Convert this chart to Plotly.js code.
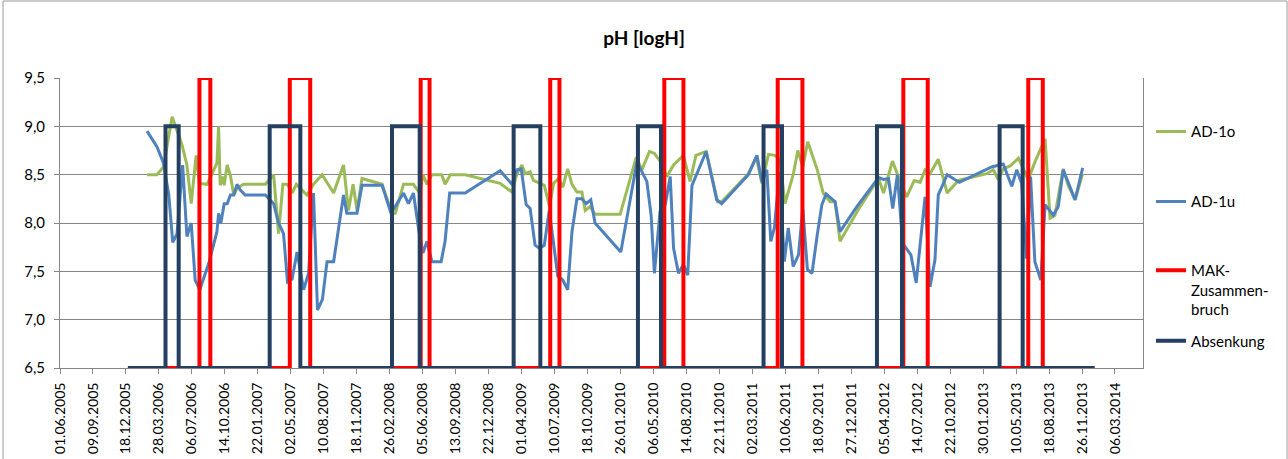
<!DOCTYPE html>
<html>
<head>
<meta charset="utf-8">
<script src="https://cdn.plot.ly/plotly-3.0.1.min.js"></script>
<style>
html,body{margin:0;padding:0;background:#fff;}
#chart{width:1288px;height:459px;}
</style>
</head>
<body>
<div id="chart"></div>
<script>
// ---------- DATA ----------
const ad1oDates = ["2006-02-20","2006-03-22","2006-04-11","2006-05-07","2006-06-06","2006-06-21","2006-07-04","2006-07-19","2006-07-29","2006-08-21","2006-09-20","2006-09-25","2006-09-30","2006-10-07","2006-10-12","2006-10-21","2006-10-31","2006-11-10","2006-11-20","2006-12-10","2007-02-14","2007-03-11","2007-03-26","2007-04-08","2007-04-22","2007-05-06","2007-05-19","2007-06-12","2007-06-20","2007-07-10","2007-08-05","2007-09-09","2007-10-09","2007-10-24","2007-11-07","2007-11-19","2007-12-04","2008-02-03","2008-03-04","2008-03-14","2008-04-08","2008-05-08","2008-05-27","2008-06-06","2008-06-18","2008-07-03","2008-08-02","2008-08-12","2008-08-28","2008-10-12","2008-11-17","2008-12-27","2009-01-26","2009-03-03","2009-03-18","2009-04-02","2009-04-12","2009-04-27","2009-05-07","2009-06-09","2009-06-25","2009-07-07","2009-07-22","2009-08-04","2009-08-19","2009-09-01","2009-09-16","2009-10-01","2009-10-11","2009-10-26","2009-11-10","2010-01-25","2010-03-15","2010-04-01","2010-04-24","2010-05-09","2010-05-24","2010-06-16","2010-07-06","2010-08-05","2010-08-25","2010-09-12","2010-10-13","2010-11-17","2010-11-29","2011-02-18","2011-03-14","2011-03-31","2011-04-20","2011-05-10","2011-05-25","2011-06-09","2011-07-04","2011-07-18","2011-08-02","2011-08-17","2011-09-15","2011-10-03","2011-10-24","2011-11-08","2011-11-23","2012-01-23","2012-03-19","2012-04-03","2012-04-30","2012-05-18","2012-06-12","2012-07-05","2012-07-23","2012-08-07","2012-08-22","2012-09-16","2012-10-13","2012-11-16","2013-02-10","2013-03-02","2013-03-17","2013-04-01","2013-04-22","2013-05-17","2013-06-16","2013-07-06","2013-08-06","2013-08-21","2013-09-05","2013-09-30","2013-10-15","2013-11-05","2013-11-28"];
const ad1oValues = [8.50,8.50,8.58,9.10,8.81,8.60,8.20,8.70,8.41,8.40,8.62,9.00,8.39,8.48,8.39,8.60,8.49,8.29,8.36,8.40,8.40,8.50,7.89,8.40,8.40,8.31,8.40,8.31,8.29,8.40,8.50,8.31,8.60,8.13,8.40,8.13,8.46,8.40,8.10,8.10,8.40,8.40,8.31,8.50,8.40,8.50,8.50,8.40,8.50,8.50,8.47,8.44,8.41,8.32,8.51,8.60,8.51,8.53,8.44,8.39,8.17,8.41,8.46,8.37,8.56,8.40,8.32,8.32,8.13,8.17,8.09,8.09,8.68,8.55,8.74,8.72,8.65,8.48,8.60,8.70,8.43,8.70,8.74,8.22,8.22,8.51,8.68,8.41,8.71,8.70,8.65,8.20,8.50,8.75,8.58,8.84,8.55,8.31,8.22,8.22,7.81,8.17,8.46,8.31,8.64,8.48,8.27,8.44,8.42,8.55,8.51,8.66,8.31,8.44,8.51,8.55,8.45,8.56,8.59,8.67,8.45,8.63,8.87,8.05,8.08,8.56,8.39,8.24,8.51];

const ad1uDates = ["2006-02-20","2006-03-22","2006-04-11","2006-04-27","2006-05-09","2006-05-22","2006-06-08","2006-06-21","2006-07-04","2006-07-16","2006-07-30","2006-08-26","2006-09-20","2006-09-25","2006-10-02","2006-10-12","2006-10-21","2006-10-31","2006-11-10","2006-11-20","2006-11-30","2006-12-15","2007-02-14","2007-03-11","2007-03-26","2007-04-10","2007-04-22","2007-05-06","2007-05-21","2007-06-10","2007-06-25","2007-07-10","2007-07-22","2007-08-06","2007-08-20","2007-09-09","2007-10-09","2007-10-19","2007-11-19","2007-12-04","2008-02-03","2008-03-01","2008-04-08","2008-04-23","2008-05-08","2008-05-24","2008-06-06","2008-06-18","2008-07-03","2008-07-31","2008-08-12","2008-08-26","2008-10-12","2009-01-26","2009-03-03","2009-03-18","2009-03-31","2009-04-15","2009-04-27","2009-05-12","2009-05-25","2009-06-09","2009-06-24","2009-07-07","2009-07-20","2009-08-04","2009-08-19","2009-09-01","2009-09-16","2009-10-01","2009-10-14","2009-10-28","2009-11-10","2010-01-27","2010-03-17","2010-04-16","2010-04-29","2010-05-09","2010-05-26","2010-06-11","2010-06-26","2010-07-06","2010-07-21","2010-08-05","2010-08-18","2010-08-31","2010-10-13","2010-11-14","2010-11-29","2011-02-18","2011-03-16","2011-03-31","2011-04-15","2011-04-27","2011-05-08","2011-05-23","2011-06-07","2011-06-19","2011-07-04","2011-07-20","2011-08-02","2011-08-16","2011-08-30","2011-09-15","2011-09-29","2011-10-12","2011-11-08","2011-11-23","2012-01-13","2012-03-19","2012-04-03","2012-04-18","2012-05-01","2012-05-15","2012-05-31","2012-06-25","2012-07-11","2012-08-07","2012-08-22","2012-09-06","2012-09-16","2012-10-13","2012-11-19","2013-02-25","2013-04-01","2013-04-27","2013-05-12","2013-05-27","2013-06-11","2013-06-23","2013-07-06","2013-07-24","2013-08-06","2013-08-31","2013-09-15","2013-09-30","2013-11-05","2013-11-28"];
const ad1uValues = [8.95,8.79,8.62,8.29,7.80,7.89,8.60,7.86,8.00,7.41,7.31,7.58,7.91,8.10,8.00,8.20,8.20,8.29,8.29,8.40,8.34,8.29,8.29,8.20,8.00,7.89,7.39,7.42,7.70,7.31,7.48,8.31,7.10,7.21,7.60,7.60,8.29,8.10,8.10,8.39,8.39,8.10,8.31,8.20,8.31,7.93,7.69,7.81,7.60,7.60,7.81,8.31,8.31,8.54,8.40,8.55,8.56,8.19,8.15,7.77,7.74,7.77,8.13,7.76,7.45,7.41,7.31,7.91,8.25,8.25,8.20,8.24,8.00,7.70,8.63,8.43,8.08,7.48,8.12,8.19,8.48,7.74,7.48,7.57,7.46,8.39,8.74,8.24,8.20,8.50,8.70,8.43,8.55,7.81,7.95,8.53,7.60,7.95,7.55,7.67,8.15,7.52,7.48,7.88,8.19,8.30,8.22,7.91,8.17,8.47,8.45,8.46,8.15,8.50,7.79,7.67,7.38,8.27,7.34,7.62,8.29,8.50,8.42,8.58,8.61,8.38,8.55,8.41,7.63,8.48,7.60,7.41,8.19,8.08,8.17,8.55,8.24,8.57];

// MAK-Zusammenbruch periods (value 9.5 during the period, 6.5 otherwise)
const makStart = ["2006-07-29","2007-04-29","2008-05-30","2009-06-27","2010-06-08","2011-05-18","2012-06-02","2013-06-16"];
const makEnd   = ["2006-08-31","2007-06-30","2008-06-26","2009-07-25","2010-08-05","2011-08-01","2012-08-15","2013-07-30"];
const makHigh = 9.5;

// Absenkung periods (value 9.0 during the period, 6.5 otherwise)
const absStart = ["2006-04-17","2007-02-27","2008-03-04","2009-03-08","2010-03-20","2011-04-05","2012-03-14","2013-03-21"];
const absEnd   = ["2006-05-27","2007-05-31","2008-05-27","2009-05-28","2010-05-29","2011-05-31","2012-05-29","2013-05-30"];
const absHigh = 9.0;

const stepLow = 6.5;
const stepFirst = "2005-12-24";
const stepLast = "2014-01-03";

const xTickStart = "2005-06-01";
const xTickStepDays = 100;
const xRange = ["2005-06-01","2014-05-30"];
const yRange = [6.5, 9.5];

// ---------- BUILD ----------
function stepSeries(starts, ends, lo, hi){
  const x=[stepFirst], y=[lo];
  for(let i=0;i<starts.length;i++){
    x.push(starts[i],starts[i],ends[i],ends[i]);
    y.push(lo,hi,hi,lo);
  }
  x.push(stepLast); y.push(lo);
  return {x,y};
}
const mak = stepSeries(makStart, makEnd, stepLow, makHigh);
const abs = stepSeries(absStart, absEnd, stepLow, absHigh);

const FONT = "Lato, 'Open Sans', sans-serif";

const traces = [
  {x: ad1oDates, y: ad1oValues, name: "AD-1o", type: "scatter", mode: "lines",
   line: {color: "#9BBB59", width: 3}, legend: "legend"},
  {x: ad1uDates, y: ad1uValues, name: "AD-1u", type: "scatter", mode: "lines",
   line: {color: "#4F81BD", width: 3}, legend: "legend2"},
  {x: mak.x, y: mak.y, name: "MAK-<br>Zusammen-<br>bruch", type: "scatter", mode: "lines",
   line: {color: "#FF0000", width: 4}, legend: "legend3"},
  {x: abs.x, y: abs.y, name: "Absenkung", type: "scatter", mode: "lines",
   line: {color: "#243F60", width: 4}, legend: "legend4"}
];

const legendBase = {x: 1.0074, xanchor: "left", yanchor: "middle", bgcolor: "rgba(0,0,0,0)",
  borderwidth: 0, font: {family: FONT, size: 15, color: "#000"}};

const layout = {
  width: 1288, height: 459,
  margin: {l: 60, r: 145, t: 78, b: 91, pad: 0},
  paper_bgcolor: "#fff", plot_bgcolor: "#fff",
  separators: ",.",
  font: {family: FONT, size: 14, color: "#000"},
  title: {text: "pH [logH]", font: {family: FONT, size: 19, weight: "bold", color: "#000"},
          xref: "container", x: 0.5, xanchor: "center", yref: "container", y: 1 - 38/459, yanchor: "middle"},
  xaxis: {type: "date", range: xRange, tick0: xTickStart, dtick: xTickStepDays*86400000,
          tickformat: "%d.%m.%Y", tickangle: -90, ticks: "outside", ticklen: 5, tickcolor: "#868686",
          ticklabelstandoff: 3,
          showline: true, linecolor: "#868686", linewidth: 1, showgrid: false, zeroline: false,
          tickfont: {family: FONT, size: 14, color: "#000"}},
  yaxis: {range: yRange, dtick: 0.5, tick0: 6.5, tickformat: ".1f", ticks: "outside", ticklen: 5,
          ticklabelstandoff: 6,
          tickcolor: "#868686", showline: true, linecolor: "#868686", mirror: true, linewidth: 1,
          showgrid: true, gridcolor: "#868686", gridwidth: 1, zeroline: false,
          tickfont: {family: FONT, size: 15, color: "#000"}},
  showlegend: true,
  legend:  Object.assign({}, legendBase, {y: (368-131.7)/290}),
  legend2: Object.assign({}, legendBase, {y: (368-201.7)/290}),
  legend3: Object.assign({}, legendBase, {y: (368-290)/290, valign: "top"}),
  legend4: Object.assign({}, legendBase, {y: (368-341)/290}),
  shapes: [
    {type: "rect", xref: "paper", yref: "paper",
     x0: (3-60)/1083, x1: (1287-60)/1083, y0: (368-470)/290, y1: (368-1)/290,
     line: {color: "#9a9a9a", width: 1}, fillcolor: "rgba(0,0,0,0)", layer: "below"}
  ]
};

Plotly.newPlot("chart", traces, layout, {displayModeBar: false, staticPlot: true});
</script>
</body>
</html>
